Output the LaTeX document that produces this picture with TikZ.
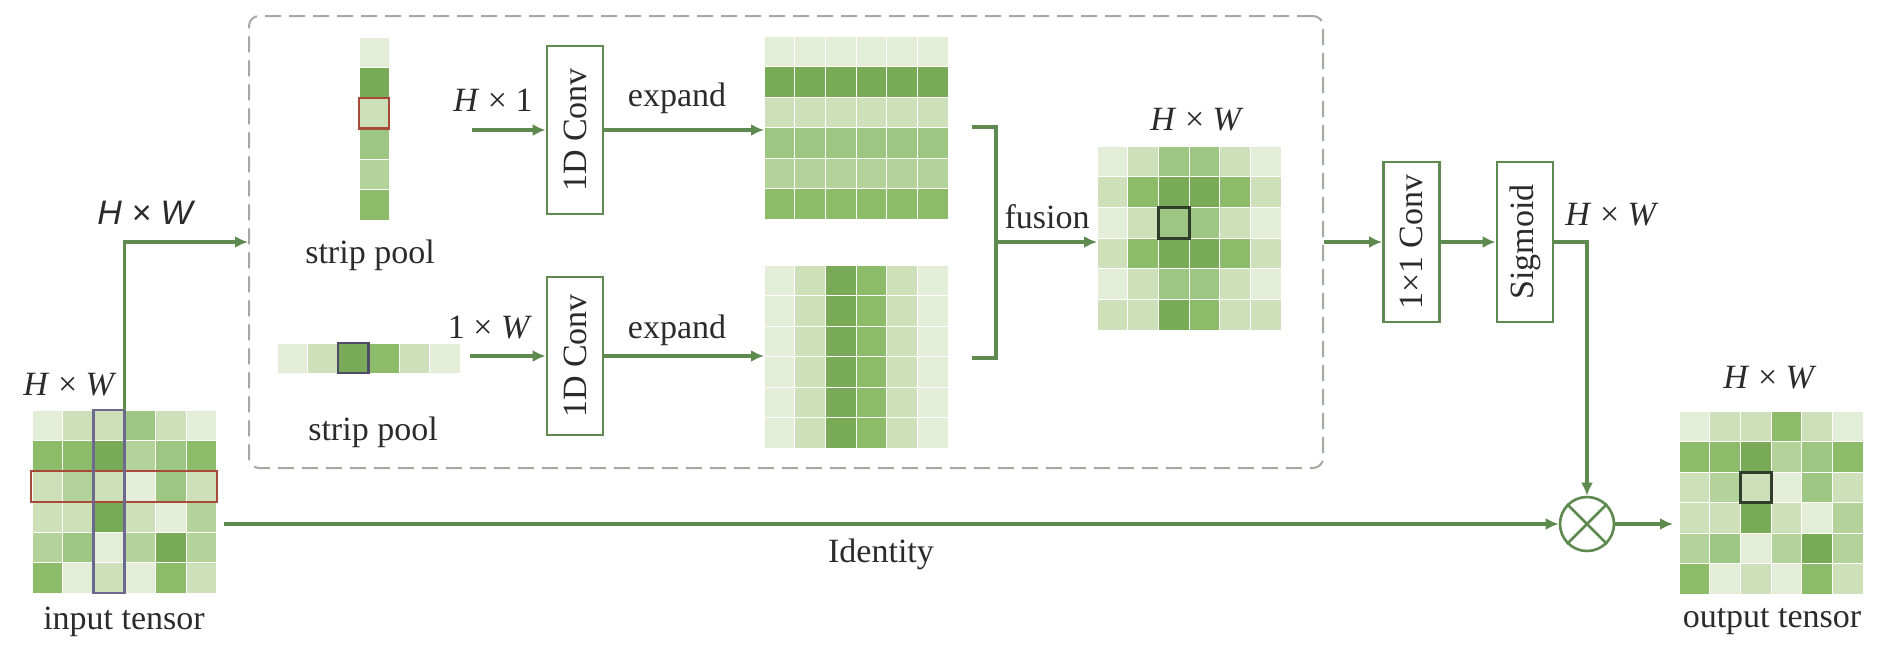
\documentclass[tikz,border=0pt]{standalone}
\usepackage{fontspec}
\setmainfont{Liberation Serif}
\newfontfamily\arialfont{Liberation Sans}
\usetikzlibrary{arrows.meta,calc}

\definecolor{L1}{HTML}{E3EDD7}
\definecolor{L2}{HTML}{CDE0BA}
\definecolor{L3}{HTML}{B4D39B}
\definecolor{L4}{HTML}{9DC682}
\definecolor{L5}{HTML}{8CBB6A}
\definecolor{L6}{HTML}{78AA57}
\definecolor{lineG}{HTML}{5E8A4F}
\definecolor{dashG}{HTML}{A3AAA3}
\definecolor{txt}{HTML}{2B2B2B}
\definecolor{redH}{HTML}{A8493A}
\definecolor{purH}{HTML}{6C6890}
\definecolor{purD}{HTML}{4F4C6A}
\definecolor{darkH}{HTML}{2F3D2A}

\newcommand{\hxw}{\textit{H} × \textit{W}}
\newcommand{\cellgrid}[5]{%
  \foreach \gRow [count=\gRi from 0] in {#5} {%
    \foreach \gVal [count=\gCi from 0] in \gRow {%
      \filldraw[fill=L\gVal, draw=white, line width=0.4pt] ({#1+\gCi*#3},{#2+\gRi*#4}) rectangle ++(#3,#4);
    }%
  }%
}

\begin{document}
\begin{tikzpicture}[x=0.5pt,y=-0.5pt,
  every node/.style={text=txt, font=\fontsize{17}{20}\selectfont},
  lbl/.style={inner sep=0pt},
  gridnode/.style={inner sep=0pt, outer sep=0pt},
  arr/.style={draw=lineG, line width=1.6pt, -{Latex[length=6.5pt,width=6pt]}},
  conn/.style={draw=lineG, line width=1.6pt},
  opbox/.style={draw=lineG, line width=1.4pt, inner sep=0pt, minimum width=28pt},
  hl/.style={line width=1.3pt}
]
\fill[white] (0,0) rectangle (1884,650);
\useasboundingbox (0,0) rectangle (1884,650);

% dashed container
\node[draw=dashG, line width=1pt, dash pattern=on 8pt off 4pt, rounded corners=5pt,
      minimum width=537pt, minimum height=226pt, inner sep=0pt] (dash) at (786,242) {};

% grids
\cellgrid{32}{410}{30.8}{30.5}{{1,2,2,4,2,1},{5,5,6,3,4,5},{2,3,2,1,4,2},{2,2,6,2,1,3},{3,4,1,3,6,3},{5,1,2,1,5,2}}
\cellgrid{359}{37}{30}{30.5}{{1},{6},{2},{4},{3},{5}}
\cellgrid{277}{343}{30.5}{30}{{1,2,6,5,2,1}}
\cellgrid{764}{36}{30.7}{30.5}{{1,1,1,1,1,1},{6,6,6,6,6,6},{2,2,2,2,2,2},{4,4,4,4,4,4},{3,3,3,3,3,3},{5,5,5,5,5,5}}
\cellgrid{764}{265}{30.7}{30.5}{{1,2,6,5,2,1},{1,2,6,5,2,1},{1,2,6,5,2,1},{1,2,6,5,2,1},{1,2,6,5,2,1},{1,2,6,5,2,1}}
\cellgrid{1097}{146}{30.7}{30.7}{{1,2,4,4,2,1},{2,5,6,6,5,2},{1,2,4,4,2,1},{2,5,6,6,5,2},{1,2,4,4,2,1},{2,2,6,5,2,2}}
\cellgrid{1679}{411}{30.7}{30.5}{{1,2,2,5,2,1},{5,5,6,3,4,5},{2,3,2,1,4,2},{2,2,6,2,1,3},{3,4,1,3,6,3},{5,1,2,1,5,2}}

% grid nodes
\node[gridnode, minimum width=92.5pt, minimum height=91.5pt] (in) at (124.5,501.5) {};
\node[gridnode, minimum width=15pt, minimum height=91.5pt] (vs) at (374,128.5) {};
\node[gridnode, minimum width=91.5pt, minimum height=15pt] (hs) at (368.5,358) {};
\node[gridnode, minimum width=92pt, minimum height=91.5pt] (tg) at (856,127.5) {};
\node[gridnode, minimum width=92pt, minimum height=91.5pt] (bg) at (856,356.5) {};
\node[gridnode, minimum width=92pt, minimum height=92pt] (fg) at (1189,238) {};
\node[gridnode, minimum width=92pt, minimum height=91.5pt] (out) at (1771,502.5) {};

% highlights
\draw[redH, hl] (31,471) rectangle (217,502);
\draw[purH, hl] (93.6,410) rectangle (124.4,593);
\draw[redH, hl] (359,98) rectangle (389,128.5);
\draw[purD, hl] (338,343) rectangle (368.5,373);
\draw[darkH, line width=1.5pt] (1158.4,207.4) rectangle (1189.1,238.1);
\draw[darkH, line width=1.5pt] (1740.4,472) rectangle (1771.1,502.5);

% operation boxes
\node[opbox, minimum height=84pt] (c1a) at (575,130) {\rotatebox{90}{1D Conv}};
\node[opbox, minimum height=79pt] (c1b) at (575,356) {\rotatebox{90}{1D Conv}};
\node[opbox, minimum height=80pt] (c11) at (1411.5,242) {\rotatebox{90}{1×1 Conv}};
\node[opbox, minimum height=80pt] (sig) at (1525,242) {\rotatebox{90}{Sigmoid}};
\node[draw=lineG, line width=1.3pt, circle, minimum size=27pt, inner sep=0pt] (mul) at (1587,524) {};
\draw[draw=lineG, line width=1.3pt] (mul.45) -- (mul.225) (mul.135) -- (mul.315);

% coordinates
\coordinate (h1s) at (472,130);
\coordinate (w1s) at (470,356);
\coordinate (bt) at (972,127);
\coordinate (bb) at (972,358);
\coordinate (bm) at (996,242);
\coordinate (idS) at (224,524);

% connectors
\draw[arr] (in.north) |- (dash.west);
\draw[arr] (h1s) -- (c1a.west);
\draw[arr] (c1a.east) -- (c1a.east -| tg.west);
\draw[arr] (w1s) -- (c1b.west);
\draw[arr] (c1b.east) -- (c1b.east -| bg.west);
\draw[conn] (bt) -| (bm) |- (bb);
\draw[arr] (bm) -- (bm -| fg.west);
\draw[arr] (dash.east) -- (c11.west);
\draw[arr] (c11.east) -- (sig.west);
\draw[arr] (sig.east) -| (mul.north);
\draw[arr] (idS) -- (mul.west);
\draw[arr, shorten >=3pt] (mul.east) -- (mul.east -| out.west);

% labels
\node[lbl] (tIn) at (70,385) {\hxw};
\node[lbl] (tTop) at (145,213) {{\arialfont\itshape H × W}};
\node[lbl] (tInput) at (124,622) {input tensor};
\node[lbl] (tSp1) at (370,255) {strip pool};
\node[lbl] (tSp2) at (373,432) {strip pool};
\node[lbl] (tH1) at (493,100) {\textit{H} × 1};
\node[lbl] (t1W) at (490,328) {1 × \textit{W}};
\node[lbl] (tEx1) at (677,98) {expand};
\node[lbl] (tEx2) at (677,330) {expand};
\node[lbl] (tFus) at (1047,217) {fusion};
\node[lbl] (tFg) at (1197,120) {\hxw};
\node[lbl] (tSig) at (1612,215) {\hxw};
\node[lbl] (tOut) at (1770,378) {\hxw};
\node[lbl] (tOutput) at (1772,622) {output tensor};
\node[lbl] (tId) at (881,554) {Identity};
\end{tikzpicture}
\end{document}
